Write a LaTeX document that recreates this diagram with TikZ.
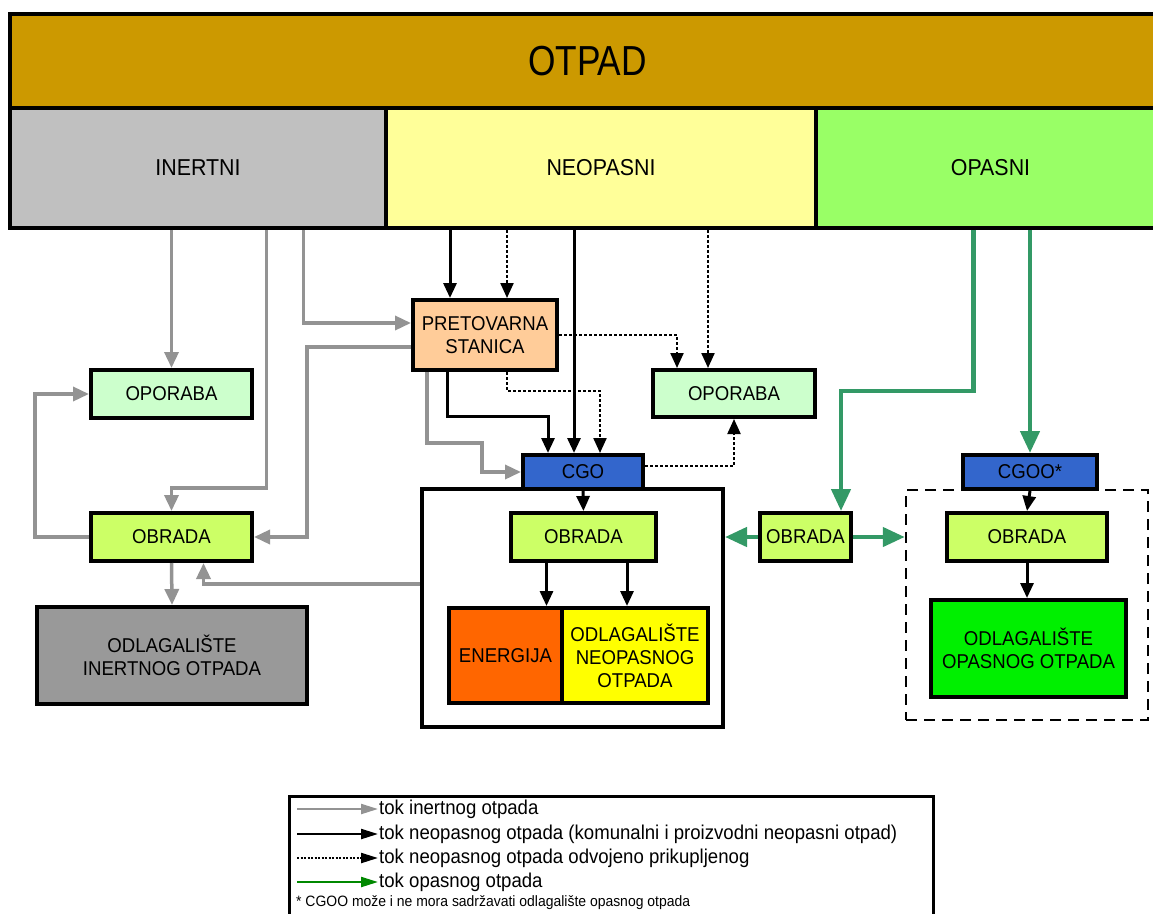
\documentclass[tikz,border=0pt]{standalone}
\usepackage{fontspec}
\setmainfont{Liberation Sans}
\newfontfamily\boxfont{Liberation Sans}[FakeStretch=0.93]
\newfontfamily\titlefont{Liberation Sans}[FakeStretch=0.84]
\usepackage{tikz}
\usetikzlibrary{arrows.meta, calc}
\definecolor{gold}{HTML}{CC9900}
\definecolor{inertfill}{HTML}{C0C0C0}
\definecolor{paleyellow}{HTML}{FFFF99}
\definecolor{palegreen}{HTML}{99FF66}
\definecolor{peach}{HTML}{FFCC99}
\definecolor{mint}{HTML}{CCFFCC}
\definecolor{lime}{HTML}{CCFF66}
\definecolor{cgoblue}{HTML}{3366CC}
\definecolor{energyorange}{HTML}{FF6600}
\definecolor{brightyellow}{HTML}{FFFF00}
\definecolor{hazlandfill}{HTML}{00F000}
\definecolor{landfillgray}{HTML}{999999}
\definecolor{flowgray}{HTML}{939393}
\definecolor{flowgreen}{HTML}{339966}
\definecolor{legendgreen}{HTML}{008800}
\tikzstyle{bar} = [rectangle, draw=black, line width=3.5pt, inner sep=0pt, text centered, font={\boxfont\fontsize{23}{26}\selectfont}]
\tikzstyle{block} = [rectangle, draw=black, line width=4pt, inner sep=0pt, text centered, align=center, font={\boxfont\fontsize{20}{23}\selectfont}]
\tikzstyle{inertflow} = [line width=3.5pt, draw=flowgray, -{Triangle[length=16pt,width=14pt]}]
\tikzstyle{neoflow} = [line width=3pt, draw=black, -{Triangle[length=15pt,width=13pt]}]
\tikzstyle{sepflow} = [line width=2.2pt, draw=black, dash pattern=on 3pt off 2pt, -{Triangle[length=15pt,width=13pt]}]
\tikzstyle{hazflow} = [line width=4.5pt, draw=flowgreen, -{Triangle[length=22pt,width=19pt]}]
\tikzstyle{legarrow} = [line width=2.2pt, -{Triangle[length=17pt,width=10pt]}]
\tikzstyle{legtext} = [anchor=west, inner sep=1pt, font={\boxfont\fontsize{20}{23}\selectfont}]

\begin{document}
\begin{tikzpicture}[x=1pt, y=-1pt]
    \useasboundingbox (0,0) rectangle (1153,913);

    % Waste categories
    \node[bar, minimum width=1155pt, minimum height=94pt, fill=gold, font={\titlefont\fontsize{42}{46}\selectfont}] (otpad) at (587.5,61) {OTPAD};
    \node[bar, minimum width=376pt, minimum height=120pt, fill=inertfill] (inertni) at (198,168) {INERTNI};
    \node[bar, minimum width=430pt, minimum height=120pt, fill=paleyellow] (neopasni) at (601,168) {NEOPASNI};
    \node[bar, minimum width=349pt, minimum height=120pt, fill=palegreen] (opasni) at (990.5,168) {OPASNI};

    % Inert branch
    \node[block, minimum width=161pt, minimum height=48pt, fill=mint] (oporabaI) at (171.5,394) {OPORABA};
    \node[block, minimum width=161pt, minimum height=48pt, fill=lime] (obradaI) at (171.5,537) {OBRADA};
    \node[block, minimum width=270pt, minimum height=97pt, fill=landfillgray] (odlagI) at (172,655.5) {ODLAGALIŠTE\\INERTNOG OTPADA};

    % Non-hazardous branch
    \node[block, minimum width=144pt, minimum height=70pt, fill=peach] (pretovarna) at (485,335) {PRETOVARNA\\STANICA};
    \node[block, minimum width=162pt, minimum height=47pt, fill=mint] (oporabaN) at (734,393.5) {OPORABA};
    \node[block, minimum width=301pt, minimum height=238pt, fill=white] (cgoBox) at (572.5,608) {};
    \node[block, minimum width=120pt, minimum height=34pt, fill=cgoblue] (cgo) at (583,472) {CGO};
    \node[block, minimum width=145pt, minimum height=48pt, fill=lime] (obradaN) at (583.5,537) {OBRADA};
    \node[block, minimum width=113pt, minimum height=95pt, fill=energyorange] (energija) at (505.5,655.5) {ENERGIJA};
    \node[block, minimum width=146pt, minimum height=95pt, fill=brightyellow] (odlagN) at (635,655.5) {ODLAGALIŠTE\\NEOPASNOG\\OTPADA};

    % Hazardous branch
    \node[block, minimum width=91pt, minimum height=48pt, fill=lime] (obradaO) at (805.5,537) {OBRADA};
    \node[block, minimum width=242pt, minimum height=230pt, line width=2.5pt, dash pattern=on 11pt off 7pt] (cgooBox) at (1027,605) {};
    \node[block, minimum width=134pt, minimum height=34pt, fill=cgoblue] (cgoo) at (1030,472) {CGOO*};
    \node[block, minimum width=160pt, minimum height=48pt, fill=lime] (obradaP) at (1027,537) {OBRADA};
    \node[block, minimum width=195pt, minimum height=97pt, fill=hazlandfill] (odlagO) at (1028.5,648.5) {ODLAGALIŠTE\\OPASNOG OTPADA};

    % Drop points
    \coordinate (i2) at ($(inertni.south west)+(258,0)$);
    \coordinate (i3) at ($(inertni.south west)+(295,0)$);
    \coordinate (pn1) at ($(pretovarna.north)+(-35,0)$);
    \coordinate (pn2) at ($(pretovarna.north)+(22,0)$);
    \coordinate (cn1) at ($(cgo.north)+(-35,0)$);
    \coordinate (cn2) at ($(cgo.north)+(-9,0)$);
    \coordinate (cn3) at ($(cgo.north)+(17,0)$);
    \coordinate (on1) at ($(oporabaN.north)+(-57,0)$);
    \coordinate (on2) at ($(oporabaN.north)+(-26,0)$);
    \coordinate (oe) at ($(obradaN.south)+(-37,0)$);
    \coordinate (ol) at ($(obradaN.south)+(43.5,0)$);
    \coordinate (g0) at ($(opasni.south west)+(159,0)$);
    \coordinate (g1) at ($(obradaO.north)+(35.5,0)$);

    % Inert flows
    \draw[inertflow] (oporabaI.north |- inertni.south) -- (oporabaI.north);
    \draw[inertflow] (i2) |- ($(obradaI.north)+(0,-23)$) -- (obradaI.north);
    \draw[inertflow] (i3) |- ($(pretovarna.west)+(0,-12)$);
    \draw[inertflow] ($(pretovarna.west)+(0,12)$) -| ($(obradaI.east)+(53,0)$) -- (obradaI.east);
    \draw[inertflow] (obradaI.west) -- ++(-54,0) |- (oporabaI.west);
    \draw[inertflow] (obradaI.south) -- (odlagI.north);
    \draw[inertflow] ($(cgoBox.west)+(0,-24)$) -| ($(obradaI.south)+(32,0)$);
    \draw[inertflow] ($(pretovarna.south west)+(16,0)$) |- ($(cgo.west)+(-39,-29)$) |- (cgo.west);

    % Non-hazardous flows
    \draw[neoflow] (pn1 |- neopasni.south) -- (pn1);
    \draw[neoflow] (cn2 |- neopasni.south) -- (cn2);
    \draw[neoflow] ($(pretovarna.south west)+(36,0)$) |- ($(cn1)+(0,-37)$) -- (cn1);
    \draw[neoflow] (cgo.south) -- (obradaN.north);
    \draw[neoflow] (oe) -- (oe |- energija.north);
    \draw[neoflow] (ol) -- (ol |- odlagN.north);
    \draw[neoflow] (cgoo.south) -- (obradaP.north);
    \draw[neoflow] (obradaP.south) -- (obradaP.south |- odlagO.north);

    % Separately collected flows
    \draw[sepflow] (pn2 |- neopasni.south) -- (pn2);
    \draw[sepflow] (on2 |- neopasni.south) -- (on2);
    \draw[sepflow] (pretovarna.east) -| (on1);
    \draw[sepflow] (pn2 |- pretovarna.south) |- ($(cn3)+(0,-62)$) -- (cn3);
    \draw[sepflow] ($(cgo.east)+(0,-6)$) -| (oporabaN.south);

    % Hazardous flows
    \draw[hazflow] (g0) |- ($(g1)+(0,-120)$) -- (g1);
    \draw[hazflow] (cgoo.north |- opasni.south) -- (cgoo.north);
    \draw[hazflow] (obradaO.west) -- (obradaO.west -| cgoBox.east);
    \draw[hazflow] (obradaO.east) -- (obradaO.east -| cgooBox.west);

    % Legend
    \node[rectangle, draw=black, line width=3pt, minimum width=644pt, minimum height=130pt] (legend) at (611,861) {};
    \node[legtext] (leg1) at (378,809) {tok inertnog otpada};
    \node[legtext] (leg2) at (378,834) {tok neopasnog otpada (komunalni i proizvodni neopasni otpad)};
    \node[legtext] (leg3) at (378,858) {tok neopasnog otpada odvojeno prikupljenog};
    \node[legtext] (leg4) at (378,882) {tok opasnog otpada};
    \node[anchor=west, inner sep=0pt, font={\boxfont\fontsize{15}{17}\selectfont}] (note) at (296,903) {* CGOO može i ne mora sadržavati odlagalište opasnog otpada};
    \draw[legarrow, draw=flowgray] ($(leg1.west)+(-81,0)$) -- (leg1.west);
    \draw[legarrow, draw=black] ($(leg2.west)+(-81,0)$) -- (leg2.west);
    \draw[legarrow, draw=black, dash pattern=on 2pt off 1.5pt] ($(leg3.west)+(-81,0)$) -- (leg3.west);
    \draw[legarrow, draw=legendgreen] ($(leg4.west)+(-81,0)$) -- (leg4.west);
\end{tikzpicture}
\end{document}
